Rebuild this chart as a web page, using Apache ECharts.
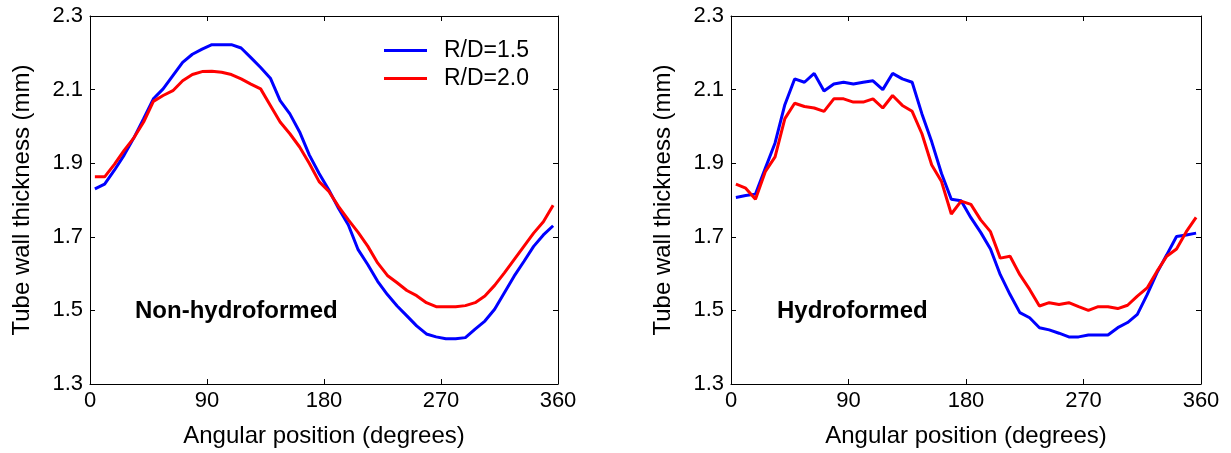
<!DOCTYPE html>
<html>
<head>
<meta charset="utf-8">
<script src="https://cdn.jsdelivr.net/npm/echarts@6/dist/echarts.min.js"></script>
<style>
  html, body { margin: 0; padding: 0; background: #fff; }
  #chart { width: 1231px; height: 453px; }
</style>
</head>
<body>
<div id="chart"></div>
<script>
// angular positions (deg), centre of each 7.5 deg sector
var angles = [3.75, 11.25, 18.75, 26.25, 33.75, 41.25, 48.75, 56.25, 63.75, 71.25, 78.75, 86.25,
  93.75, 101.25, 108.75, 116.25, 123.75, 131.25, 138.75, 146.25, 153.75, 161.25, 168.75, 176.25,
  183.75, 191.25, 198.75, 206.25, 213.75, 221.25, 228.75, 236.25, 243.75, 251.25, 258.75, 266.25,
  273.75, 281.25, 288.75, 296.25, 303.75, 311.25, 318.75, 326.25, 333.75, 341.25, 348.75, 356.25];

// Non-hydroformed
var nonHydroRD15 = [1.830, 1.843, 1.881, 1.922, 1.969, 2.021, 2.075, 2.102, 2.138, 2.174, 2.196, 2.210,
  2.222, 2.222, 2.222, 2.213, 2.187, 2.160, 2.131, 2.070, 2.034, 1.985, 1.922, 1.872,
  1.827, 1.777, 1.732, 1.665, 1.624, 1.579, 1.543, 1.512, 1.485, 1.458, 1.436, 1.428,
  1.423, 1.423, 1.426, 1.449, 1.471, 1.503, 1.548, 1.593, 1.633, 1.674, 1.705, 1.730];
var nonHydroRD20 = [1.863, 1.863, 1.897, 1.935, 1.969, 2.012, 2.068, 2.084, 2.097, 2.124, 2.141, 2.149,
  2.150, 2.147, 2.141, 2.129, 2.115, 2.102, 2.057, 2.012, 1.980, 1.944, 1.899, 1.850,
  1.823, 1.782, 1.746, 1.712, 1.674, 1.629, 1.595, 1.575, 1.554, 1.540, 1.521, 1.510,
  1.510, 1.510, 1.513, 1.521, 1.539, 1.568, 1.602, 1.638, 1.674, 1.710, 1.741, 1.786];

// Hydroformed
var hydroRD15 = [1.807, 1.812, 1.816, 1.886, 1.955, 2.059, 2.129, 2.120, 2.144, 2.096, 2.115, 2.120,
  2.115, 2.120, 2.124, 2.100, 2.144, 2.129, 2.120, 2.034, 1.958, 1.872, 1.802, 1.798,
  1.752, 1.712, 1.667, 1.597, 1.543, 1.494, 1.480, 1.453, 1.447, 1.438, 1.428, 1.428,
  1.433, 1.433, 1.433, 1.453, 1.467, 1.489, 1.543, 1.602, 1.651, 1.701, 1.705, 1.710];
var hydroRD20 = [1.843, 1.832, 1.802, 1.877, 1.917, 2.021, 2.063, 2.054, 2.050, 2.041, 2.075, 2.075,
  2.066, 2.066, 2.075, 2.050, 2.084, 2.057, 2.041, 1.980, 1.895, 1.850, 1.762, 1.797,
  1.788, 1.746, 1.714, 1.642, 1.647, 1.597, 1.557, 1.512, 1.521, 1.516, 1.521, 1.510,
  1.500, 1.510, 1.510, 1.505, 1.514, 1.539, 1.561, 1.606, 1.647, 1.667, 1.714, 1.753];

var seriesNames = ['R/D=1.5', 'R/D=2.0'];
var panelLabels = ['Non-hydroformed', 'Hydroformed'];

var FONT = '"Liberation Sans", Arial, sans-serif';

function pairs(vals) {
  return angles.map(function (a, i) { return [a, vals[i]]; });
}

// bottom/left axes carry labels, top/right are just the box with inward ticks
function xAxes(gi) {
  var base = {
    gridIndex: gi, type: 'value', min: 0, max: 360, interval: 90,
    axisLine: { show: true, onZero: false, lineStyle: { color: '#000', width: 1 } },
    axisTick: { show: true, inside: true, length: 5, lineStyle: { color: '#000' } },
    splitLine: { show: false }
  };
  return [
    Object.assign({}, base, {
      position: 'bottom',
      axisLabel: { color: '#000', fontSize: 22, fontFamily: FONT, margin: 6 },
      name: 'Angular position (degrees)', nameLocation: 'middle', nameGap: 40,
      nameTextStyle: { color: '#000', fontSize: 24, fontFamily: FONT }
    }),
    Object.assign({}, base, { position: 'top', axisLabel: { show: false } })
  ];
}

function yAxes(gi) {
  var base = {
    gridIndex: gi, type: 'value', min: 1.3, max: 2.3, interval: 0.2,
    axisLine: { show: true, onZero: false, lineStyle: { color: '#000', width: 1 } },
    axisTick: { show: true, inside: true, length: 5, lineStyle: { color: '#000' } },
    splitLine: { show: false }
  };
  return [
    Object.assign({}, base, {
      position: 'left',
      axisLabel: {
        color: '#000', fontSize: 22, fontFamily: FONT, margin: 7,
        formatter: function (v) { return v.toFixed(1); }
      },
      name: 'Tube wall thickness (mm)', nameLocation: 'middle', nameGap: 56,
      nameTextStyle: { color: '#000', fontSize: 24, fontFamily: FONT }
    }),
    Object.assign({}, base, { position: 'right', axisLabel: { show: false } })
  ];
}

function line(name, vals, color, gi) {
  return {
    name: name, type: 'line', data: pairs(vals),
    xAxisIndex: gi * 2, yAxisIndex: gi * 2,
    symbol: 'none', smooth: false,
    lineStyle: { color: color, width: 3 },
    itemStyle: { color: color },
    emphasis: { disabled: true }
  };
}

var chart = echarts.init(document.getElementById('chart'));

var option = {
  backgroundColor: '#fff',
  animation: false,
  grid: [
    { left: 90, top: 16, width: 468, height: 370 },
    { left: 731, top: 16, width: 470, height: 370 }
  ],
  xAxis: xAxes(0).concat(xAxes(1)),
  yAxis: yAxes(0).concat(yAxes(1)),
  legend: {
    data: seriesNames,
    orient: 'vertical',
    left: 379, top: 34,
    icon: 'rect',
    itemWidth: 43, itemHeight: 3, itemGap: 5,
    textStyle: { color: '#000', fontSize: 23, lineHeight: 23, fontFamily: FONT, padding: [0, 0, 0, 12] },
    selectedMode: false
  },
  graphic: [
    { type: 'text', left: 135, top: 299, style: { text: panelLabels[0], font: 'bold 24px ' + FONT, fill: '#000' } },
    { type: 'text', left: 777, top: 299, style: { text: panelLabels[1], font: 'bold 24px ' + FONT, fill: '#000' } }
  ],
  series: [
    line(seriesNames[0], nonHydroRD15, '#0000ff', 0),
    line(seriesNames[1], nonHydroRD20, '#ff0000', 0),
    line(seriesNames[0], hydroRD15, '#0000ff', 1),
    line(seriesNames[1], hydroRD20, '#ff0000', 1)
  ]
};

chart.setOption(option);
window.onresize = function () { chart.resize(); };
</script>
</body>
</html>
